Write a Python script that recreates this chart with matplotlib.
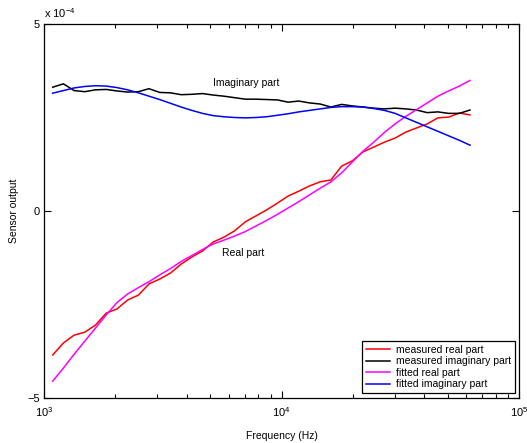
import numpy as np
import matplotlib
matplotlib.use("Agg")
import matplotlib.pyplot as plt
from matplotlib.ticker import LogLocator, NullFormatter

plt.rcParams['font.family'] = ['Liberation Sans', 'DejaVu Sans']
plt.rcParams['mathtext.fontset'] = 'custom'
plt.rcParams['mathtext.rm'] = 'Liberation Sans'
plt.rcParams['mathtext.it'] = 'Liberation Sans:italic'
plt.rcParams['mathtext.bf'] = 'Liberation Sans:bold'

# frequency sampling grid (Hz)
freq = np.logspace(np.log10(1.088e3), np.log10(6.22e4), 40)

# values in units of 1e-4
meas_real = [-3.85, -3.53, -3.32, -3.24, -3.05, -2.73, -2.62, -2.38, -2.25, -1.95,
             -1.82, -1.66, -1.42, -1.23, -1.07, -0.83, -0.70, -0.53, -0.29, -0.13,
             0.03, 0.21, 0.40, 0.53, 0.67, 0.78, 0.83, 1.20, 1.34, 1.58,
             1.71, 1.84, 1.95, 2.11, 2.22, 2.33, 2.49, 2.51, 2.62, 2.57]
meas_imag = [3.31, 3.40, 3.22, 3.19, 3.24, 3.25, 3.21, 3.18, 3.19, 3.27,
             3.17, 3.16, 3.11, 3.12, 3.14, 3.10, 3.07, 3.03, 2.99, 2.99,
             2.98, 2.97, 2.91, 2.94, 2.89, 2.86, 2.78, 2.85, 2.81, 2.78,
             2.75, 2.73, 2.75, 2.73, 2.70, 2.63, 2.65, 2.61, 2.61, 2.70]
fit_real = [-4.55, -4.20, -3.83, -3.48, -3.13, -2.78, -2.45, -2.22, -2.05, -1.89,
            -1.71, -1.54, -1.35, -1.19, -1.03, -0.88, -0.78, -0.67, -0.55, -0.40,
            -0.25, -0.09, 0.08, 0.25, 0.43, 0.61, 0.78, 1.02, 1.31, 1.60,
            1.84, 2.10, 2.33, 2.53, 2.71, 2.89, 3.07, 3.21, 3.34, 3.49]
fit_imag = [3.15, 3.22, 3.29, 3.33, 3.35, 3.34, 3.30, 3.24, 3.16, 3.07,
            2.98, 2.88, 2.78, 2.69, 2.61, 2.55, 2.52, 2.50, 2.49, 2.50,
            2.52, 2.56, 2.60, 2.65, 2.69, 2.73, 2.77, 2.79, 2.79, 2.78,
            2.74, 2.69, 2.61, 2.49, 2.37, 2.25, 2.13, 2.01, 1.89, 1.76]

series_labels = ['measured real part', 'measured imaginary part',
                 'fitted real part', 'fitted imaginary part']
series_colors = ['#ff0000', '#000000', '#ff00ff', '#0000ff']

fig = plt.figure(figsize=(5.27, 4.43), dpi=100)
ax = fig.add_axes([44/527, 45/443, (519-44)/527, (398-24)/443])

for vals, lab, col in zip([meas_real, meas_imag, fit_real, fit_imag], series_labels, series_colors):
    ax.plot(freq, vals, color=col, lw=1.1, label=lab)

ax.set_xscale('log')
ax.set_xlim(1e3, 1e5)
ax.set_ylim(-5, 5)
ax.set_yticks([-5, 0, 5])
ax.set_yticklabels(['\u22125', '0', '5'])
ax.set_xticks([1e3, 1e4, 1e5])
ax.set_xticklabels([r'$\mathregular{10^{3}}$', r'$\mathregular{10^{4}}$', r'$\mathregular{10^{5}}$'])
ax.xaxis.set_minor_locator(LogLocator(base=10, subs=np.arange(2, 10)))
ax.xaxis.set_minor_formatter(NullFormatter())

ax.tick_params(which='both', direction='in', top=True, right=True, labelsize=8, width=0.8)
ax.tick_params(which='major', length=5)
ax.tick_params(axis='x', which='major', pad=5)
ax.tick_params(axis='y', which='major', pad=3)
ax.tick_params(which='minor', length=3)
for s in ax.spines.values():
    s.set_linewidth(0.9)

ax.set_xlabel('Frequency (Hz)', fontsize=7.5, labelpad=9)
ax.set_ylabel('Sensor output', fontsize=7.5, labelpad=6)

ax.text(0.0, 1.01, r'x $\mathregular{10^{-4}}$', transform=ax.transAxes, fontsize=8,
        ha='left', va='bottom')

ax.text(5.13e3, 3.42, 'Imaginary part', fontsize=7.5, ha='left', va='center')
ax.text(5.64e3, -1.13, 'Real part', fontsize=7.5, ha='left', va='center')

leg = ax.legend(loc='lower right', bbox_to_anchor=(0.996, 0.008), fontsize=7.5,
                frameon=True, fancybox=False, edgecolor='black', framealpha=1,
                handlelength=2.3, handletextpad=0.6, borderpad=0.35, labelspacing=0.15,
                borderaxespad=0.2)
leg.get_frame().set_linewidth(0.9)

fig.savefig('out.png', dpi=100)
